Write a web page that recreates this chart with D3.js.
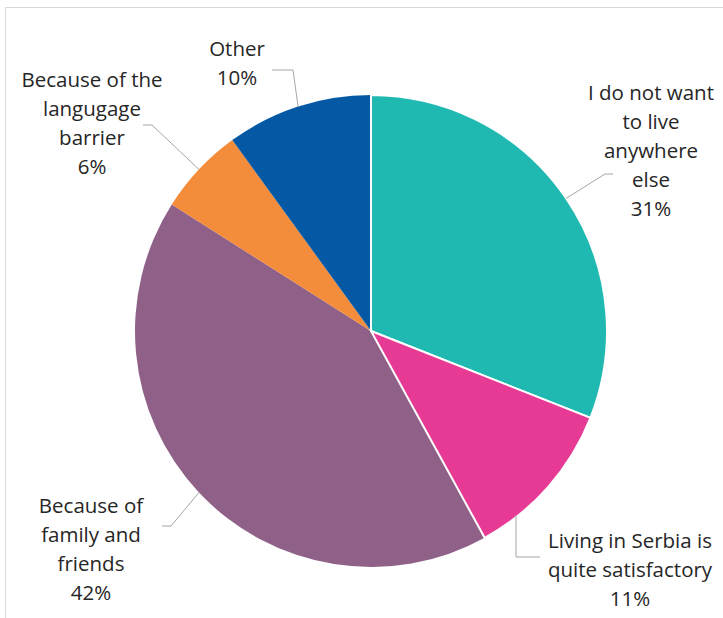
<!DOCTYPE html>
<html>
<head>
<meta charset="utf-8">
<script src="https://cdn.jsdelivr.net/npm/d3@7"></script>
<style>
  html, body { margin: 0; padding: 0; background: #fff; }
  svg { display: block; }
  text { font-family: "Open Sans", "Noto Sans", sans-serif; fill: #262626; }
</style>
</head>
<body>
<svg id="chart" width="723" height="618"></svg>
<script>
// Reasons for staying in Serbia (share of respondents, %)
const categories = [
  "I do not want to live anywhere else",
  "Living in Serbia is quite satisfactory",
  "Because of family and friends",
  "Because of the langugage barrier",
  "Other"
];
const values = [31, 11, 42, 6, 10];
const colors = ["#20B9B1", "#E63A95", "#8F6189", "#F38C3B", "#0458A4"];
const labelLines = [
  ["I do not want", "to live", "anywhere", "else"],
  ["Living in Serbia is", "quite satisfactory"],
  ["Because of", "family and", "friends"],
  ["Because of the", "langugage", "barrier"],
  ["Other"]
];

// Layout
const W = 723, H = 618;
const cx = 371, cy = 331, R = 236;
const lineH = 29;
// label block: centre x, first baseline, leader elbow on the label side
const labelLayout = [
  { x: 651, y: 100, leader: [[613, 174], [605, 174]] },
  { x: 630, y: 548, leader: [[540, 557], [516, 557]], vertical: true },
  { x: 91,  y: 513, leader: [[162, 526], [171, 526]] },
  { x: 92,  y: 87,  leader: [[143, 125], [152, 125]] },
  { x: 237, y: 56,  leader: [[272, 70], [293, 70]] }
];

const svg = d3.select("#chart");

// chart frame
svg.append("rect")
  .attr("x", 5.5).attr("y", 7.5)
  .attr("width", W + 10).attr("height", H + 10)
  .attr("fill", "none")
  .attr("stroke", "#D9D9D9")
  .attr("stroke-width", 1);

const data = values.map((v, i) => ({ name: categories[i], value: v, i }));
const pie = d3.pie().value(d => d.value).sort(null);
const arcs = pie(data);
const arc = d3.arc().innerRadius(0).outerRadius(R);

const g = svg.append("g").attr("transform", `translate(${cx},${cy})`);

// slices without outline first, outlined ones on top
const outlined = new Set([0, 1]);
g.selectAll("path.slice")
  .data(arcs.slice().sort((a, b) => outlined.has(a.data.i) - outlined.has(b.data.i)))
  .join("path")
  .attr("class", "slice")
  .attr("d", arc)
  .attr("fill", d => colors[d.data.i])
  .attr("stroke", d => outlined.has(d.data.i) ? "#fff" : "none")
  .attr("stroke-width", 2)
  .attr("stroke-linejoin", "miter");

// leader lines
arcs.forEach(a => {
  const L = labelLayout[a.data.i];
  const ang = (a.startAngle + a.endAngle) / 2;
  let end = [cx + R * Math.sin(ang), cy - R * Math.cos(ang)];
  if (L.vertical) {
    // straight drop from the elbow to the slice edge
    const ex = L.leader[1][0];
    end = [ex, cy + Math.sqrt(R * R - (ex - cx) ** 2) - 2];
  }
  const pts = L.leader.concat([end]);
  svg.append("path")
    .attr("d", d3.line()(pts))
    .attr("fill", "none")
    .attr("stroke", "#A6A6A6")
    .attr("stroke-width", 1);
});

// labels
const fmt = d3.format(".0f");
arcs.forEach(a => {
  const L = labelLayout[a.data.i];
  const lines = labelLines[a.data.i].concat([fmt(a.data.value) + "%"]);
  const t = svg.append("text")
    .attr("text-anchor", "middle")
    .attr("font-size", 20.5);
  lines.forEach((s, k) => {
    t.append("tspan").attr("x", L.x).attr("y", L.y + k * lineH).text(s);
  });
});
</script>
</body>
</html>
